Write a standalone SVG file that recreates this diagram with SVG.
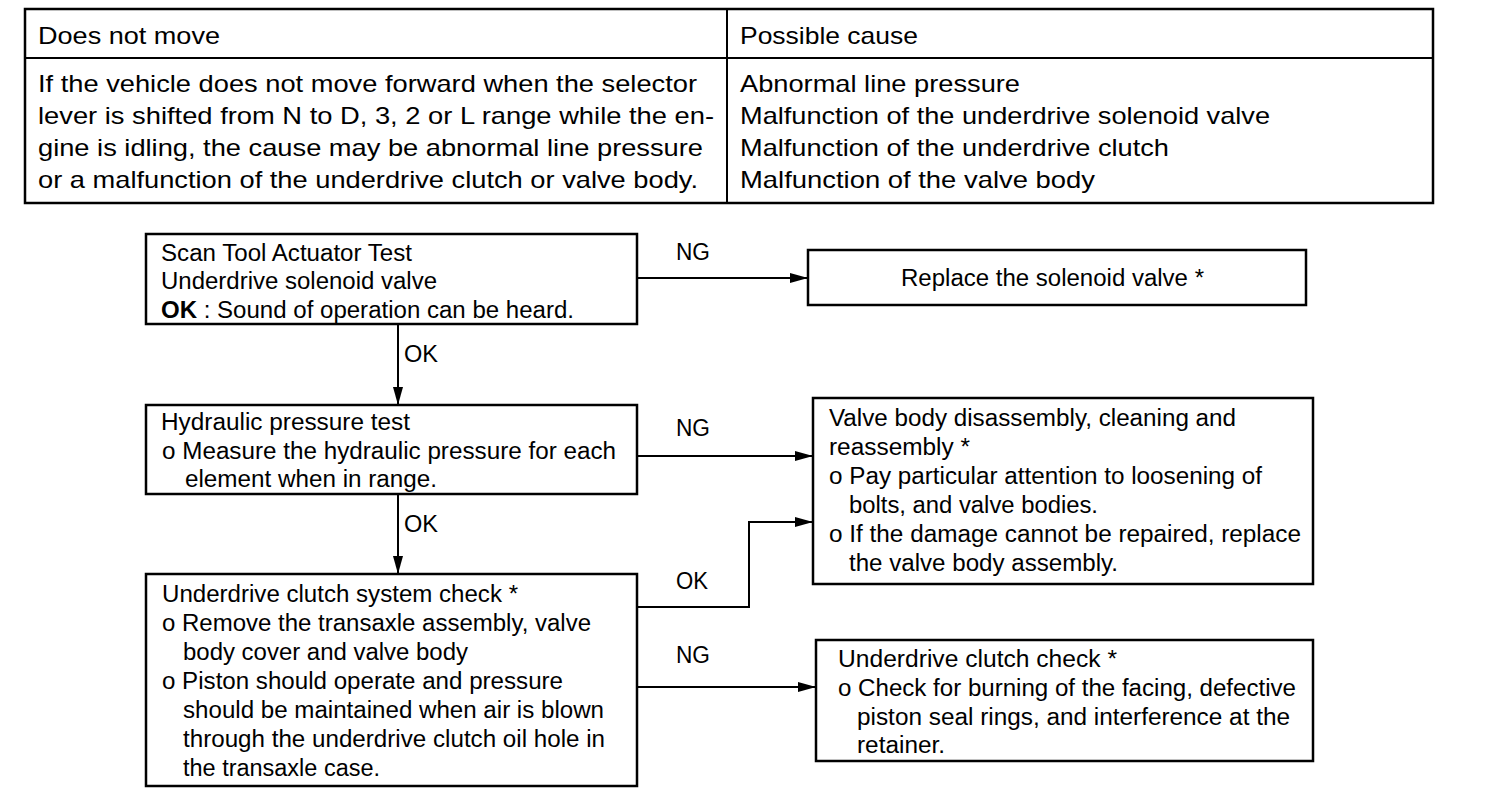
<svg xmlns="http://www.w3.org/2000/svg" width="1504" height="790" viewBox="0 0 1504 790">
<defs>
<style>
text{font-family:"Liberation Sans",Arial,sans-serif;font-size:23px;fill:#000}
.t{font-size:24px}
.box{fill:#fff;stroke:#000;stroke-width:2.5}
.ln{fill:none;stroke:#000;stroke-width:2}
.b{font-weight:bold}
</style>
<marker id="ah" viewBox="0 0 18 10" refX="18" refY="5" markerWidth="18" markerHeight="10" markerUnits="userSpaceOnUse" orient="auto">
<path d="M0,0 L18,5 L0,10 Z" fill="#000"/>
</marker>
</defs>
<rect width="1504" height="790" fill="#fff"/>
<g id="table">
<rect x="25" y="9" width="1408" height="194" class="box"/>
<line x1="25" y1="58" x2="1433" y2="58" class="ln"/>
<line x1="727" y1="9" x2="727" y2="203" class="ln"/>
<text class="t" x="38" y="44" textLength="182" lengthAdjust="spacingAndGlyphs">Does not move</text>
<text class="t" x="740" y="44" textLength="178" lengthAdjust="spacingAndGlyphs">Possible cause</text>
<text class="t" x="38" y="92" textLength="659" lengthAdjust="spacingAndGlyphs">If the vehicle does not move forward when the selector</text>
<text class="t" x="38" y="124" textLength="676" lengthAdjust="spacingAndGlyphs">lever is shifted from N to D, 3, 2 or L range while the en-</text>
<text class="t" x="38" y="156" textLength="665" lengthAdjust="spacingAndGlyphs">gine is idling, the cause may be abnormal line pressure</text>
<text class="t" x="38" y="188" textLength="660" lengthAdjust="spacingAndGlyphs">or a malfunction of the underdrive clutch or valve body.</text>
<text class="t" x="740" y="92" textLength="280" lengthAdjust="spacingAndGlyphs">Abnormal line pressure</text>
<text class="t" x="740" y="124" textLength="530" lengthAdjust="spacingAndGlyphs">Malfunction of the underdrive solenoid valve</text>
<text class="t" x="740" y="156" textLength="429" lengthAdjust="spacingAndGlyphs">Malfunction of the underdrive clutch</text>
<text class="t" x="740" y="188" textLength="355" lengthAdjust="spacingAndGlyphs">Malfunction of the valve body</text>
</g>
<g id="connectors">
<line x1="637" y1="278" x2="808" y2="278" class="ln" marker-end="url(#ah)"/>
<line x1="398" y1="324" x2="398" y2="405" class="ln" marker-end="url(#ah)"/>
<line x1="637" y1="456" x2="813" y2="456" class="ln" marker-end="url(#ah)"/>
<line x1="398" y1="494" x2="398" y2="574" class="ln" marker-end="url(#ah)"/>
<polyline points="637,607 749,607 749,522 813,522" class="ln" marker-end="url(#ah)"/>
<line x1="637" y1="687" x2="816" y2="687" class="ln" marker-end="url(#ah)"/>
<text x="676" y="260" textLength="34" lengthAdjust="spacingAndGlyphs">NG</text>
<text x="404" y="362" textLength="34" lengthAdjust="spacingAndGlyphs">OK</text>
<text x="676" y="436" textLength="34" lengthAdjust="spacingAndGlyphs">NG</text>
<text x="404" y="532" textLength="34" lengthAdjust="spacingAndGlyphs">OK</text>
<text x="676" y="589" textLength="32" lengthAdjust="spacingAndGlyphs">OK</text>
<text x="676" y="663" textLength="34" lengthAdjust="spacingAndGlyphs">NG</text>
</g>
<g id="n1">
<rect x="146" y="234" width="491" height="90" class="box"/>
<text x="161" y="261" textLength="251" lengthAdjust="spacingAndGlyphs">Scan Tool Actuator Test</text>
<text x="161" y="289" textLength="276" lengthAdjust="spacingAndGlyphs">Underdrive solenoid valve</text>
<text x="161" y="318" textLength="413" lengthAdjust="spacingAndGlyphs"><tspan class="b">OK</tspan> : Sound of operation can be heard.</text>
</g>
<g id="n2">
<rect x="808" y="250" width="498" height="55" class="box"/>
<text x="901" y="286" textLength="303" lengthAdjust="spacingAndGlyphs">Replace the solenoid valve *</text>
</g>
<g id="n3">
<rect x="146" y="405" width="491" height="89" class="box"/>
<text x="161" y="430" textLength="249" lengthAdjust="spacingAndGlyphs">Hydraulic pressure test</text>
<text x="162" y="459" textLength="454" lengthAdjust="spacingAndGlyphs">o Measure the hydraulic pressure for each</text>
<text x="185" y="487" textLength="252" lengthAdjust="spacingAndGlyphs">element when in range.</text>
</g>
<g id="n4">
<rect x="813" y="398" width="500" height="186" class="box"/>
<text x="829" y="426" textLength="407" lengthAdjust="spacingAndGlyphs">Valve body disassembly, cleaning and</text>
<text x="829" y="455" textLength="141" lengthAdjust="spacingAndGlyphs">reassembly *</text>
<text x="829" y="484" textLength="433" lengthAdjust="spacingAndGlyphs">o Pay particular attention to loosening of</text>
<text x="849" y="513" textLength="249" lengthAdjust="spacingAndGlyphs">bolts, and valve bodies.</text>
<text x="829" y="542" textLength="472" lengthAdjust="spacingAndGlyphs">o If the damage cannot be repaired, replace</text>
<text x="849" y="571" textLength="269" lengthAdjust="spacingAndGlyphs">the valve body assembly.</text>
</g>
<g id="n5">
<rect x="146" y="574" width="491" height="212" class="box"/>
<text x="162" y="602" textLength="356" lengthAdjust="spacingAndGlyphs">Underdrive clutch system check *</text>
<text x="162" y="631" textLength="429" lengthAdjust="spacingAndGlyphs">o Remove the transaxle assembly, valve</text>
<text x="183" y="660" textLength="285" lengthAdjust="spacingAndGlyphs">body cover and valve body</text>
<text x="162" y="689" textLength="401" lengthAdjust="spacingAndGlyphs">o Piston should operate and pressure</text>
<text x="183" y="718" textLength="421" lengthAdjust="spacingAndGlyphs">should be maintained when air is blown</text>
<text x="183" y="747" textLength="422" lengthAdjust="spacingAndGlyphs">through the underdrive clutch oil hole in</text>
<text x="183" y="776" textLength="197" lengthAdjust="spacingAndGlyphs">the transaxle case.</text>
</g>
<g id="n6">
<rect x="816" y="640" width="497" height="121" class="box"/>
<text x="838" y="667" textLength="279" lengthAdjust="spacingAndGlyphs">Underdrive clutch check *</text>
<text x="838" y="696" textLength="458" lengthAdjust="spacingAndGlyphs">o Check for burning of the facing, defective</text>
<text x="857" y="725" textLength="433" lengthAdjust="spacingAndGlyphs">piston seal rings, and interference at the</text>
<text x="857" y="753" textLength="88" lengthAdjust="spacingAndGlyphs">retainer.</text>
</g>
</svg>
